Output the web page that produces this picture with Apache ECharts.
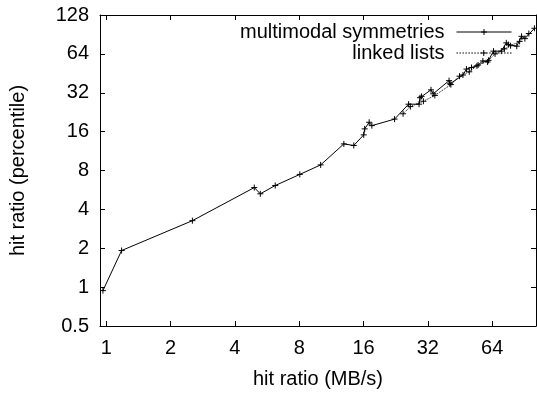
<!DOCTYPE html>
<html>
<head>
<meta charset="utf-8">
<script src="https://cdn.jsdelivr.net/npm/echarts@6/dist/echarts.min.js"></script>
<style>
  html, body { margin: 0; padding: 0; background: #fff; }
  #chart { width: 537px; height: 394px; }
</style>
</head>
<body>
<div id="chart"></div>
<script>
// multimodal symmetries (x: MB/s, y: percentile)
const symX = [0.965, 1.18, 2.53, 4.93, 5.26, 6.18, 8.05, 10.08, 12.94, 14.4, 16.03, 16.2, 17.0, 17.5,
  22.35, 26.0, 29.1, 29.4, 29.9, 33.1, 33.9, 40.2, 40.6, 46.7, 48.5, 51.2, 54.3, 57.9, 60.9,
  64.9, 70.6, 74.5, 76.2, 83.4, 87.8, 91.0, 100.9]
const symY = [0.94, 1.92, 3.27, 5.9, 5.28, 6.12, 7.46, 8.84, 12.85, 12.5, 15.1, 16.8, 18.9, 17.8,
  20.0, 26.1, 26.1, 29.3, 30.0, 33.7, 31.4, 39.7, 37.5, 43.9, 48.8, 50.2, 51.7, 56.4, 55.4,
  67.2, 67.2, 77.9, 75.6, 73.4, 87.5, 84.0, 101]
// linked lists
const lnkX = [24.5, 26.5, 30.5, 34.5, 41, 45, 50, 55, 61.5, 66, 73, 78, 86, 95]
const lnkY = [22, 25, 27.5, 30.5, 37, 43, 46.5, 52.5, 57, 64, 70, 74, 80, 92]

const font = 'Liberation Sans, Arial, sans-serif'
const plus = 'path://M0,5L10,5M5,0L5,10'

// legend keys: 55px sample line with a "+" in the middle
const keyPlus = 'M27.5,0L27.5,6M24.5,3L30.5,3'
const solidKey = 'path://M0,3L55,3' + keyPlus
let dots = ''
for (let x = 0; x < 55; x += 3) dots += 'M' + x + ',3L' + (x + 1.5) + ',3'
const dottedKey = 'path://' + dots + keyPlus

const zip = (xs, ys) => xs.map((x, i) => [x, ys[i]])

const chart = echarts.init(document.getElementById('chart'))

const tickStyle = { inside: true, length: 5, lineStyle: { color: '#000', width: 1 } }
const lineAxis = { lineStyle: { color: '#000', width: 1 } }
const fs = 20

function legendFor(name, top, icon) {
  return {
    data: [{ name: name, icon: icon }],
    right: 20, top: top, align: 'right',
    itemWidth: 55, itemHeight: 6,
    itemStyle: { color: 'transparent', borderColor: '#000', borderWidth: 1 },
    textStyle: { fontSize: fs, color: '#000', fontFamily: font, padding: [0, 7, 0, 0] }
  }
}

const option = {
  animation: false,
  textStyle: { fontFamily: font },
  grid: { left: 98, right: 1, top: 15, bottom: 63 },
  legend: [
    legendFor('multimodal symmetries', 17, solidKey),
    legendFor('linked lists', 38, dottedKey)
  ],
  xAxis: [
    {
      type: 'log', logBase: 2, min: 0.935, max: 102.6,
      name: 'hit ratio (MB/s)', nameLocation: 'middle', nameGap: 43,
      nameTextStyle: { fontSize: fs, color: '#000', fontFamily: font },
      axisLine: lineAxis, axisTick: tickStyle, splitLine: { show: false },
      axisLabel: { fontSize: fs, color: '#000', margin: 12, showMinLabel: false, showMaxLabel: false }
    },
    {
      type: 'log', logBase: 2, min: 0.935, max: 102.6, position: 'top',
      axisLine: lineAxis, axisTick: tickStyle, splitLine: { show: false },
      axisLabel: { show: false }
    }
  ],
  yAxis: [
    {
      type: 'log', logBase: 2, min: 0.5, max: 128,
      name: 'hit ratio (percentile)', nameLocation: 'middle', nameGap: 72, nameRotate: 90,
      nameTextStyle: { fontSize: fs, color: '#000', fontFamily: font },
      axisLine: lineAxis, axisTick: tickStyle, splitLine: { show: false },
      axisLabel: { fontSize: fs, color: '#000', margin: 11 }
    },
    {
      type: 'log', logBase: 2, min: 0.5, max: 128, position: 'right',
      axisLine: lineAxis, axisTick: tickStyle, splitLine: { show: false },
      axisLabel: { show: false }
    }
  ],
  series: [
    {
      name: 'multimodal symmetries', type: 'line',
      data: zip(symX, symY),
      symbol: plus, symbolSize: 6,
      lineStyle: { color: '#000', width: 1 },
      itemStyle: { color: '#000', borderColor: '#000', borderWidth: 1 }
    },
    {
      name: 'linked lists', type: 'line',
      data: zip(lnkX, lnkY),
      symbol: plus, symbolSize: 6,
      lineStyle: { color: '#000', width: 1, type: 'dotted' },
      itemStyle: { color: '#000', borderColor: '#000', borderWidth: 1 }
    }
  ]
}

chart.setOption(option)
</script>
</body>
</html>
